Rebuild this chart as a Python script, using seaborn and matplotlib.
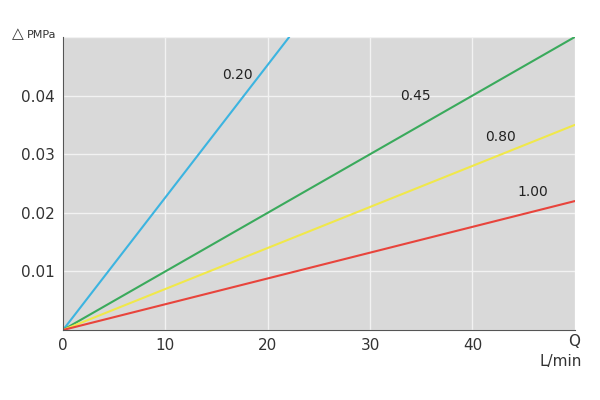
import numpy as np
import pandas as pd
import matplotlib
matplotlib.use("Agg")
import matplotlib.pyplot as plt
import seaborn as sns

# flow range and end points of each curve
labels = ["0.20", "0.45", "0.80", "1.00"]
q_end = [22.1, 50, 50, 50]
p_end = [0.05, 0.05, 0.035, 0.022]
colors = ["#3cb4e0", "#3aaa5c", "#f0e84a", "#e8443c"]
label_x = [17.0, 34.4, 42.7, 45.9]
label_y = [0.0435, 0.040, 0.033, 0.0235]

x_ticks = [0, 10, 20, 30, 40]
y_ticks = [0.01, 0.02, 0.03, 0.04]

rows = []
for lab, qe, pe in zip(labels, q_end, p_end):
    rows.append({"Q": 0, "P": 0, "d": lab})
    rows.append({"Q": qe, "P": pe, "d": lab})
df = pd.DataFrame(rows)

sns.set_style("white")
fig = plt.figure(figsize=(6, 4), dpi=100)
ax = fig.add_axes([0.105, 0.175, 0.853, 0.7325])
ax.set_facecolor("#d9d9d9")
sns.lineplot(data=df, x="Q", y="P", hue="d", palette=colors, ax=ax,
             legend=False, linewidth=1.5)
ax.set_xlim(0, 50)
ax.set_ylim(0, 0.05)
ax.set_xticks(x_ticks)
ax.set_yticks(y_ticks)
ax.set_xticks([10, 20, 30, 40, 50], minor=False)
ax.set_xticks([0, 10, 20, 30, 40, 50])
ax.set_xticklabels(["0", "10", "20", "30", "40", ""])
ax.set_yticks([0, 0.01, 0.02, 0.03, 0.04, 0.05])
ax.set_yticklabels(["", "0.01", "0.02", "0.03", "0.04", ""])
ax.grid(True, color="#f2f2f2", linewidth=1)
ax.set_axisbelow(True)
ax.tick_params(labelsize=11, colors="#333333", length=0, pad=6)
for s in ["top", "right"]:
    ax.spines[s].set_visible(False)
for s in ["left", "bottom"]:
    ax.spines[s].set_color("#555555")
ax.set_xlabel("")
ax.set_ylabel("")
for lab, lx, ly in zip(labels, label_x, label_y):
    ax.text(lx, ly, lab, fontsize=10, color="#222222", ha="center", va="center")

fig.text(0.02, 0.915, "\u25b3", fontsize=11, color="#333333", va="center")
fig.text(0.045, 0.912, "PMPa", fontsize=8, color="#333333", va="center")
fig.text(0.957, 0.135, "Q", fontsize=11, color="#333333", ha="center")
fig.text(0.935, 0.085, "L/min", fontsize=11, color="#333333", ha="center")

fig.savefig("out.png", dpi=100)
